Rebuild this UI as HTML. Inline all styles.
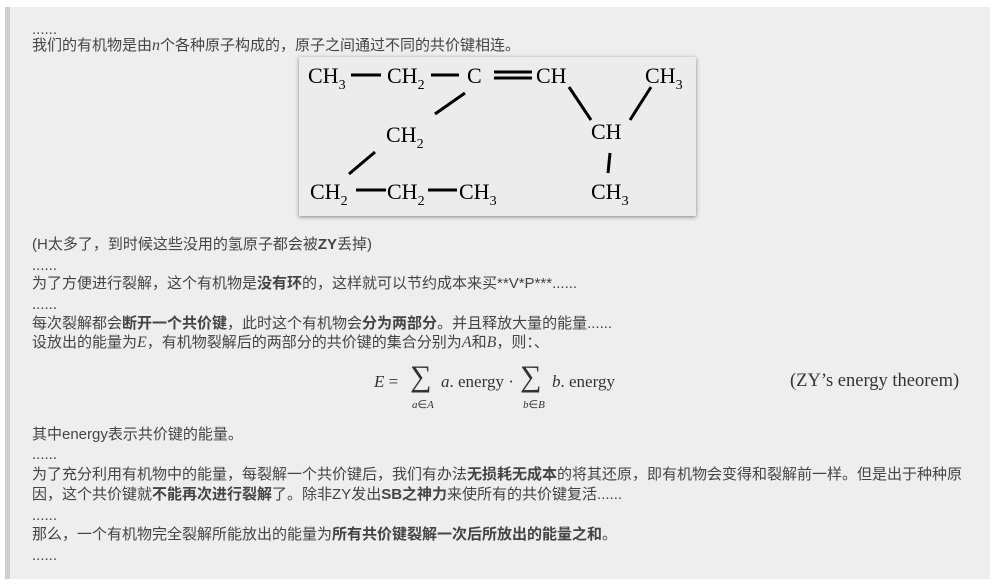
<!DOCTYPE html><html><head><meta charset="utf-8"><style>
body{margin:0;width:994px;height:586px;background:#fff;position:relative;overflow:hidden;font-family:"Liberation Sans","Noto Sans CJK SC",sans-serif;}
#box{position:absolute;left:5px;top:7px;width:980px;height:572px;background:#eeeeee;border-left:5px solid #cfcfcf;}
.t{position:absolute;left:32px;font-size:15px;letter-spacing:0;color:#444;white-space:nowrap;line-height:16px;}
.m{font-family:"Liberation Serif",serif;font-style:italic;font-size:16px;letter-spacing:0;}
#img{position:absolute;left:299px;top:57px;width:397px;height:159px;background:#ececec;box-shadow:0 1px 4px rgba(0,0,0,.45);}
#img svg text{font-family:"Liberation Serif",serif;font-size:22px;fill:#000;}
.f{position:absolute;font-family:"Liberation Serif",serif;color:#333;font-size:17px;white-space:nowrap;}
.s{position:absolute;font-family:"Liberation Serif",serif;color:#333;}
</style></head><body>
<div id="box"></div>
<div class="t" style="top:22px">......</div>
<div class="t" style="top:38px">我们的有机物是由<span class="m">n</span>个各种原子构成的，原子之间通过不同的共价键相连。</div>
<div id="img"><svg width="397" height="159">
<g stroke="#000" stroke-width="3">
<line x1="52" y1="18" x2="82" y2="18"/><line x1="132" y1="18" x2="160" y2="18"/>
<line x1="195" y1="15" x2="233" y2="15"/><line x1="195" y1="21" x2="233" y2="21"/>
<line x1="166" y1="36" x2="136" y2="57"/><line x1="76" y1="95" x2="50" y2="117"/>
<line x1="270" y1="30" x2="292" y2="63"/><line x1="352" y1="30" x2="331" y2="63"/>
<line x1="311" y1="96" x2="309" y2="116"/>
<line x1="57" y1="133" x2="87" y2="133"/><line x1="129" y1="133" x2="158" y2="133"/>
</g>
<text x="9" y="26">CH<tspan font-size="14" dy="6">3</tspan></text>
<text x="88" y="26">CH<tspan font-size="14" dy="6">2</tspan></text>
<text x="168" y="26">C</text>
<text x="237" y="26">CH</text>
<text x="346" y="26">CH<tspan font-size="14" dy="6">3</tspan></text>
<text x="87" y="85">CH<tspan font-size="14" dy="6">2</tspan></text>
<text x="292" y="82">CH</text>
<text x="11" y="142">CH<tspan font-size="14" dy="6">2</tspan></text>
<text x="88" y="142">CH<tspan font-size="14" dy="6">2</tspan></text>
<text x="160" y="142">CH<tspan font-size="14" dy="6">3</tspan></text>
<text x="292" y="142">CH<tspan font-size="14" dy="6">3</tspan></text>
</svg></div>
<div class="t" style="top:237px">(H太多了，到时候这些没用的氢原子都会被<b>ZY</b>丢掉)</div>
<div class="t" style="top:258px">......</div>
<div class="t" style="top:276px">为了方便进行裂解，这个有机物是<b>没有环</b>的，这样就可以节约成本来买**V*P***......</div>
<div class="t" style="top:297px">......</div>
<div class="t" style="top:316px">每次裂解都会<b>断开一个共价键</b>，此时这个有机物会<b>分为两部分</b>。并且释放大量的能量......</div>
<div class="t" style="top:335px">设放出的能量为<span class="m">E</span>，有机物裂解后的两部分的共价键的集合分别为<span class="m">A</span>和<span class="m">B</span>，则：、</div>
<div class="f" style="left:374px;top:372px"><i>E</i> =</div>
<div class="s" style="left:410px;top:360px;font-size:30px">∑</div>
<div class="f" style="left:441px;top:372px"><i>a</i>. energy ·</div>
<div class="s" style="left:520px;top:360px;font-size:30px">∑</div>
<div class="f" style="left:552px;top:372px"><i>b</i>. energy</div>
<div class="s" style="left:412px;top:398px;font-size:11px"><i>a</i>∈<i>A</i></div>
<div class="s" style="left:523px;top:398px;font-size:11px"><i>b</i>∈<i>B</i></div>
<div class="f" style="left:790px;top:371px;font-size:18.5px">(ZY’s energy theorem)</div>
<div class="t" style="top:427px">其中energy表示共价键的能量。</div>
<div class="t" style="top:447px">......</div>
<div class="t" style="top:467px">为了充分利用有机物中的能量，每裂解一个共价键后，我们有办法<b>无损耗无成本</b>的将其还原，即有机物会变得和裂解前一样。但是出于种种原</div>
<div class="t" style="top:487px">因，这个共价键就<b>不能再次进行裂解</b>了。除非ZY发出<b>SB之神力</b>来使所有的共价键复活......</div>
<div class="t" style="top:508px">......</div>
<div class="t" style="top:527px">那么，一个有机物完全裂解所能放出的能量为<b>所有共价键裂解一次后所放出的能量之和</b>。</div>
<div class="t" style="top:548px">......</div>
</body></html>
